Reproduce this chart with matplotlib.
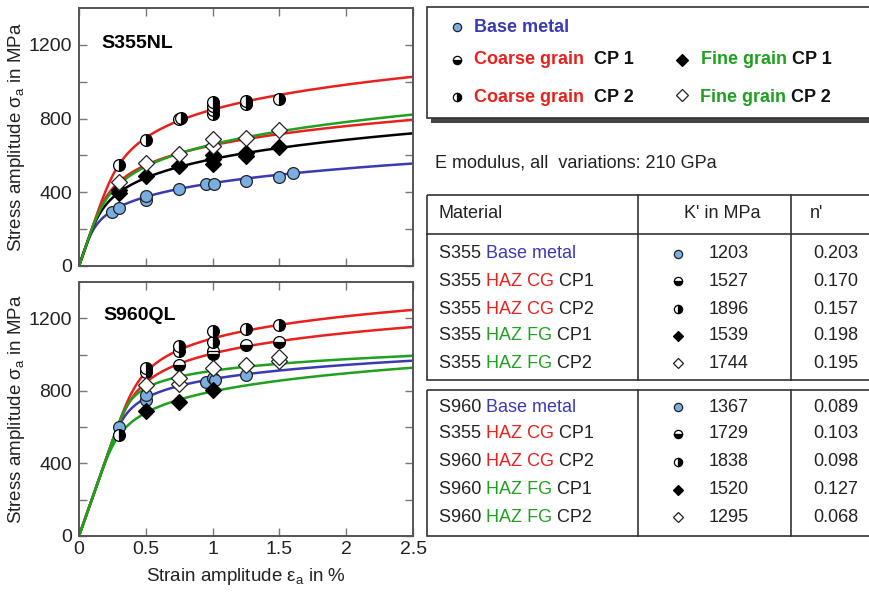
import numpy as np
import matplotlib
matplotlib.use("Agg")
import matplotlib.pyplot as plt
from matplotlib.patches import Rectangle

plt.rcParams['font.family'] = ['Liberation Sans', 'DejaVu Sans']
plt.rcParams['mathtext.fontset'] = 'custom'
plt.rcParams['mathtext.rm'] = 'Liberation Sans'
plt.rcParams['mathtext.it'] = 'Liberation Sans'

# ------------------------------------------------------------------
# data
# ------------------------------------------------------------------
E_mod = 210000.0  # MPa

# Ramberg-Osgood parameters (table)
names_355 = ["S355", "S355", "S355", "S355", "S355"]
names_960 = ["S960", "S355", "S960", "S960", "S960"]
zones = ["Base metal", "HAZ CG", "HAZ CG", "HAZ FG", "HAZ FG"]
suffix = ["", " CP1", " CP2", " CP1", " CP2"]
K_355 = [1203, 1527, 1896, 1539, 1744]
n_355 = [0.203, 0.170, 0.157, 0.198, 0.195]
K_960 = [1367, 1729, 1838, 1520, 1295]
n_960 = [0.089, 0.103, 0.098, 0.127, 0.068]

# test points, S355NL
s355_base_x = [0.25, 0.30, 0.50, 0.50, 0.75, 0.95, 1.01, 1.25, 1.50, 1.60]
s355_base_y = [291, 312, 360, 380, 417, 447, 447, 462, 481, 505]
s355_cg1_x = []
s355_cg1_y = []
s355_cg2_x = [0.30, 0.50, 0.75, 0.76, 1.00, 1.00, 1.00, 1.00, 1.25, 1.25, 1.50]
s355_cg2_y = [550, 681, 795, 805, 822, 845, 870, 890, 877, 897, 905]
s355_fg1_x = [0.30, 0.30, 0.50, 0.75, 1.00, 1.00, 1.00, 1.25, 1.25, 1.50]
s355_fg1_y = [395, 410, 490, 540, 555, 580, 600, 595, 615, 648]
s355_fg2_x = [0.30, 0.50, 0.75, 1.00, 1.00, 1.25, 1.50]
s355_fg2_y = [455, 560, 610, 652, 690, 695, 738]

# test points, S960QL
s960_base_x = [0.30, 0.50, 0.50, 0.95, 1.00, 1.02, 1.25]
s960_base_y = [600, 750, 775, 848, 872, 860, 885]
s960_cg1_x = [0.75, 1.00, 1.00, 1.25, 1.50]
s960_cg1_y = [945, 1005, 1020, 1055, 1067]
s960_cg2_x = [0.30, 0.50, 0.50, 0.75, 0.75, 1.00, 1.00, 1.25, 1.50]
s960_cg2_y = [555, 905, 925, 1020, 1045, 1072, 1130, 1140, 1165]
s960_fg1_x = [0.50, 0.75, 1.00]
s960_fg1_y = [690, 740, 805]
s960_fg2_x = [0.50, 0.75, 0.75, 1.00, 1.25, 1.50, 1.50]
s960_fg2_y = [830, 840, 870, 925, 945, 965, 985]

xtick_vals = [0, 0.5, 1, 1.5, 2, 2.5]
xtick_labels = ['0', '0.5', '1', '1.5', '2', '2.5']

BLUE = '#3a3ab4'
RED = '#e8211e'
GREEN = '#1fa01f'
FACE = '#7aaee2'
TXT = '#222222'
zone_col = [BLUE, RED, RED, GREEN, GREEN]

# marker styles: base, cg1, cg2, fg1, fg2
mstyle = [
    dict(marker='o', mfc=FACE, mec='#222222', ms=8.5, mew=0.9),
    dict(marker='o', fillstyle='bottom', mfc='black', markerfacecoloralt='white', mec='black', ms=8.5, mew=0.9),
    dict(marker='o', fillstyle='right', mfc='black', markerfacecoloralt='white', mec='black', ms=8.5, mew=0.9),
    dict(marker='D', mfc='black', mec='black', ms=8, mew=0.9),
    dict(marker='D', mfc='white', mec='#222222', ms=8, mew=0.9),
]

fig = plt.figure(figsize=(8.7, 5.96), dpi=100)


def ro_curve(K, n):
    s = np.linspace(0, 1400, 800)
    eps = 100 * (s / E_mod + (s / K) ** (1.0 / n))
    return eps, s


def style_axes(ax, show_x):
    ax.set_xlim(0, 2.5)
    ax.set_ylim(0, 1400)
    ax.set_xticks(xtick_vals)
    ax.set_yticks([0, 400, 800, 1200])
    ax.set_yticks([200, 600, 1000], minor=True)
    ax.tick_params(which='both', direction='in', top=True, right=True, length=6,
                   width=1, color='#777777', labelsize=14, labelcolor=TXT)
    ax.tick_params(axis='y', pad=5)
    if show_x:
        ax.set_xticklabels(xtick_labels)
        ax.set_xlabel(r'Strain amplitude $\varepsilon_{\rm a}$ in %', fontsize=13.5, color=TXT, labelpad=6)
    else:
        ax.set_xticklabels([])
    ax.set_ylabel(r'Stress amplitude $\sigma_{\rm a}$ in MPa', fontsize=13.5, color=TXT, labelpad=1)
    for sp in ax.spines.values():
        sp.set_color('#555555')
        sp.set_linewidth(1.4)


# top panel
ax1 = fig.add_axes([0.0908, 0.5537, 0.384, 0.433])
top_cols = [BLUE, RED, RED, 'black', GREEN]
for K, n, c in zip(K_355, n_355, top_cols):
    ex, sy = ro_curve(K, n)
    ax1.plot(ex, sy, color=c, lw=1.8, zorder=2)
pts_355 = [(s355_base_x, s355_base_y), (s355_cg1_x, s355_cg1_y), (s355_cg2_x, s355_cg2_y),
           (s355_fg1_x, s355_fg1_y), (s355_fg2_x, s355_fg2_y)]
for (px, py), st in zip(pts_355, mstyle):
    if px:
        ax1.plot(px, py, ls='none', zorder=3, **st)
ax1.text(0.068, 0.862, 'S355NL', transform=ax1.transAxes, fontsize=14, fontweight='bold', va='center')
style_axes(ax1, False)

# bottom panel
ax2 = fig.add_axes([0.0908, 0.1007, 0.384, 0.426])
bot_cols = [BLUE, RED, RED, GREEN, GREEN]
for K, n, c in zip(K_960, n_960, bot_cols):
    ex, sy = ro_curve(K, n)
    ax2.plot(ex, sy, color=c, lw=1.8, zorder=2)
pts_960 = [(s960_base_x, s960_base_y), (s960_cg1_x, s960_cg1_y), (s960_cg2_x, s960_cg2_y),
           (s960_fg1_x, s960_fg1_y), (s960_fg2_x, s960_fg2_y)]
for (px, py), st in zip(pts_960, mstyle):
    ax2.plot(px, py, ls='none', zorder=3, **st)
ax2.text(0.072, 0.87, 'S960QL', transform=ax2.transAxes, fontsize=14, fontweight='bold', va='center')
style_axes(ax2, True)

# overlay in pixel coordinates for legend box and tables
ov = fig.add_axes([0, 0, 1, 1])
ov.set_xlim(0, 870)
ov.set_ylim(596, 0)
ov.axis('off')
ov.patch.set_alpha(0)
renderer = fig.canvas.get_renderer()


def put_parts(x, y, parts, **kw):
    for s, c in parts:
        t = ov.text(x, y, s, color=c, va='center', ha='left', **kw)
        x += t.get_window_extent(renderer=renderer).width


def small_marker(x, y, idx, scale=0.7):
    st = dict(mstyle[idx])
    st['ms'] = st['ms'] * scale
    ov.plot([x], [y], ls='none', **st)


# legend box with shadow
ov.add_patch(Rectangle((431, 12), 450, 111, facecolor='#444444', edgecolor='none'))
ov.add_patch(Rectangle((427, 7), 450, 111, facecolor='white', edgecolor='#333333', lw=1.2))
LF = 13
small_marker(457, 27, 0)
put_parts(474, 27, [('Base metal', BLUE)], fontsize=LF, fontweight='bold')
small_marker(457, 60, 1)
put_parts(474, 60, [('Coarse grain', RED), ('  CP 1', '#111111')], fontsize=LF, fontweight='bold')
small_marker(457, 97, 2)
put_parts(474, 97, [('Coarse grain', RED), ('  CP 2', '#111111')], fontsize=LF, fontweight='bold')
small_marker(682, 60, 3, 0.75)
put_parts(701, 60, [('Fine grain', GREEN), (' CP 1', '#111111')], fontsize=LF, fontweight='bold')
small_marker(682, 95, 4, 0.75)
put_parts(700, 97, [('Fine grain', GREEN), (' CP 2', '#111111')], fontsize=LF, fontweight='bold')

ov.text(435, 163, 'E modulus, all  variations: 210 GPa', fontsize=13, color=TXT, va='center')

# tables
TF = 13
x_left, x_c1, x_c2, x_right = 427, 638, 791, 880
ov.add_patch(Rectangle((x_left, 195), x_right - x_left, 185, fill=False, edgecolor='#333333', lw=1.2))
ov.plot([x_left, x_right], [234, 234], color='#333333', lw=1.2)
ov.add_patch(Rectangle((x_left, 390), x_right - x_left, 146, fill=False, edgecolor='#333333', lw=1.2))
for xc in (x_c1, x_c2):
    ov.plot([xc, xc], [195, 380], color='#333333', lw=1.2)
    ov.plot([xc, xc], [390, 536], color='#333333', lw=1.2)

ov.text(439, 214, 'Material', fontsize=TF, color=TXT, va='center')
ov.text(722, 214, "K' in MPa", fontsize=TF, color=TXT, va='center', ha='center')
ov.text(810, 214, "n'", fontsize=TF, color=TXT, va='center')

rows1_y = [254, 281, 309, 336, 363]
rows2_y = [407, 434, 462, 490, 517]
for names, Ks, ns, ys in ((names_355, K_355, n_355, rows1_y), (names_960, K_960, n_960, rows2_y)):
    for i, y in enumerate(ys):
        put_parts(439, y, [(names[i] + ' ', TXT), (zones[i], zone_col[i]), (suffix[i], TXT)],
                  fontsize=TF)
        small_marker(678, y, i)
        ov.text(709, y, str(Ks[i]), fontsize=TF, color=TXT, va='center')
        ov.text(813, y, '%.3f' % ns[i], fontsize=TF, color=TXT, va='center')

fig.savefig('out.png', dpi=100)
